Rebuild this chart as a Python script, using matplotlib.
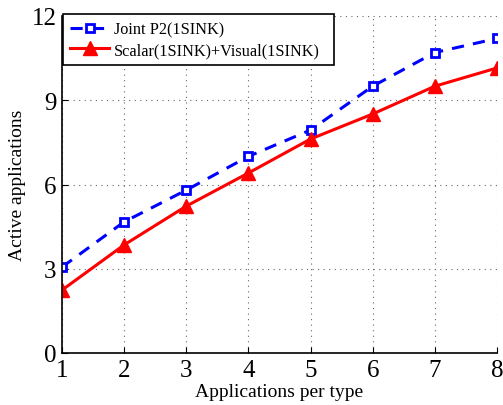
import matplotlib
matplotlib.use("Agg")
import matplotlib.pyplot as plt

apps_per_type = [1, 2, 3, 4, 5, 6, 7, 8]
joint_p2 = [3.06, 4.67, 5.80, 7.00, 7.94, 9.50, 10.70, 11.20]
scalar_visual = [2.24, 3.85, 5.23, 6.41, 7.62, 8.51, 9.50, 10.15]
y_ticks = [0, 3, 6, 9, 12]

plt.rcParams['font.family'] = ['Liberation Serif', 'DejaVu Serif']

fig = plt.figure(figsize=(5.03, 4.06), dpi=100)
ax = fig.add_axes([62/503, 1 - 354/406, (497-62)/503, (354-17)/406])

ax.plot(apps_per_type, joint_p2, color='blue', linestyle=(0, (4, 3)), linewidth=2.2,
        marker='s', markersize=6, markerfacecolor='white', markeredgecolor='blue',
        markeredgewidth=2, label='Joint P2(1SINK)')
ax.plot(apps_per_type, scalar_visual, color='red', linestyle='-', linewidth=2.2,
        marker='^', markersize=10, markerfacecolor='red', markeredgecolor='red',
        label='Scalar(1SINK)+Visual(1SINK)')

ax.set_xlim(1, 8)
ax.set_ylim(0, 12)
ax.set_xticks(apps_per_type)
ax.set_yticks(y_ticks)
ax.tick_params(labelsize=18, direction='in', length=4, pad=4)
ax.grid(True, linestyle=(0, (1, 4)), color='#666666', linewidth=0.8)
for s in ('top', 'right'):
    ax.spines[s].set_visible(False)
for s in ('left', 'bottom'):
    ax.spines[s].set_linewidth(1.2)

ax.set_xlabel('Applications per type', fontsize=14, labelpad=2)
ax.set_ylabel('Active applications', fontsize=14, labelpad=4)

leg = ax.legend(loc='upper left', bbox_to_anchor=(0.0023, 0.864, 0.623, 0.142),
                mode='expand', fontsize=11.7, frameon=True, fancybox=False,
                edgecolor='black', framealpha=1, borderaxespad=0,
                handlelength=2.4, handletextpad=0.3, borderpad=0.45,
                labelspacing=0.3)
leg.get_frame().set_linewidth(1.2)

fig.savefig('out.png', dpi=100)
